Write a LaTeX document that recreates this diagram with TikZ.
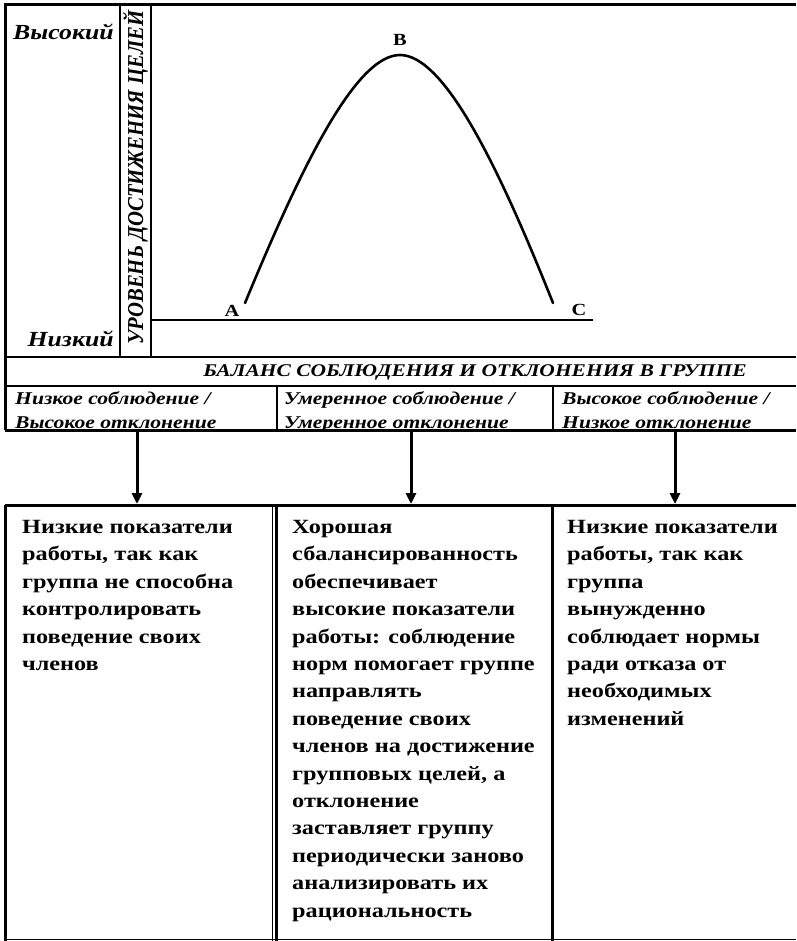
\documentclass[tikz,border=0pt]{standalone}
\usepackage{fontspec}
\setmainfont[FakeStretch=1.2]{Liberation Serif}
\newfontfamily\plainserif{Liberation Serif}
\usetikzlibrary{arrows.meta}

\begin{document}
\begin{tikzpicture}[x=1pt,y=-1pt,
  thickrule/.style={line width=3pt},
  thinrule/.style={line width=1.1pt},
  curve/.style={line width=2.6pt},
  level/.style={font=\fontsize{21.5}{24}\selectfont\bfseries\itshape, inner sep=0},
  point/.style={font=\fontsize{17}{18}\selectfont\bfseries, inner sep=0},
  headtext/.style={font=\fontsize{17.9}{22}\selectfont\bfseries\itshape, inner sep=0},
  coltext/.style={font=\fontsize{18}{24}\selectfont\bfseries\itshape, inner sep=0, align=left, anchor=north west},
  boxtext/.style={font=\fontsize{20.2}{27.4}\selectfont\bfseries, inner sep=0, align=left, anchor=north west},
  flow/.style={line width=3pt, -{Triangle[length=11pt,width=10pt]}}]

\useasboundingbox (0,0) rectangle (796,941);

% ---- chart frame ----
\draw[thickrule] (5,430) -- (5,5) -- (796,5);
\draw[thinrule] (120,5) -- (120,357);
\draw[thinrule] (151,5) -- (151,357);
\draw[thinrule] (5,357) -- (796,357);
\draw[thinrule] (5,386) -- (796,386);
\draw[thinrule] (277,386) -- (277,430);
\draw[thinrule] (553,386) -- (553,430);
\draw[thickrule] (5,430) -- (796,430);

% ---- axis labels ----
\node[level, anchor=base east] (high) at (114,40) {Высокий};
\node[level, anchor=base east] (low) at (114,346) {Низкий};
\node[inner sep=0, rotate=90] (yaxis) at (135.5,177.5)
  {\scalebox{1}[1.1]{\plainserif\fontsize{20.7}{22}\selectfont\bfseries\itshape УРОВЕНЬ ДОСТИЖЕНИЯ ЦЕЛЕЙ}};

% ---- performance curve ----
\draw[thinrule] (151,320) -- (593,320);
\coordinate (pA) at (245,303);
\coordinate (pB) at (400,55);
\coordinate (pC) at (553,303);
\draw[curve, line cap=round] (pA) .. controls (300,170) and (355,55) .. (pB)
  .. controls (445,55) and (500,170) .. (pC);
\node[point] (lA) at (232,311) {A};
\node[point] (lB) at (400,40) {B};
\node[point] (lC) at (579,310) {C};

% ---- balance headings ----
\node[headtext] (balance) at (475,372) {БАЛАНС СОБЛЮДЕНИЯ И ОТКЛОНЕНИЯ В ГРУППЕ};
\node[coltext] (c1) at (15,391) {Низкое соблюдение /\\Высокое отклонение};
\node[coltext] (c2) at (284,391) {Умеренное соблюдение /\\Умеренное отклонение};
\node[coltext] (c3) at (562,391) {Высокое соблюдение /\\Низкое отклонение};

% ---- outcome boxes ----
\draw[thickrule] (5,505) -- (796,505);
\draw[thickrule] (5,505) -- (5,941);
\draw[thinrule] (272.5,505) -- (272.5,941);
\draw[thickrule] (276,505) -- (276,941);
\draw[thickrule] (552,505) -- (552,941);
\draw[thinrule] (5,939.5) -- (796,939.5);

\node[boxtext] (r1) at (22,520) {Низкие показатели\\работы, так как\\группа не способна\\контролировать\\поведение своих\\членов};
\node[boxtext] (r2) at (292,520) {Хорошая\\сбалансированность\\обеспечивает\\высокие показатели\\работы: соблюдение\\норм помогает группе\\направлять\\поведение своих\\членов на достижение\\групповых целей, а\\отклонение\\заставляет группу\\периодически заново\\анализировать их\\рациональность};
\node[boxtext] (r3) at (567,520) {Низкие показатели\\работы, так как\\группа\\вынужденно\\соблюдает нормы\\ради отказа от\\необходимых\\изменений};

% ---- arrows from headings to outcomes ----
\coordinate (s1) at (137,431);
\coordinate (s2) at (411,431);
\coordinate (s3) at (675,431);
\coordinate (t1) at (137,504);
\coordinate (t2) at (411,504);
\coordinate (t3) at (675,504);
\draw[flow] (s1) -- (t1);
\draw[flow] (s2) -- (t2);
\draw[flow] (s3) -- (t3);
\end{tikzpicture}
\end{document}
